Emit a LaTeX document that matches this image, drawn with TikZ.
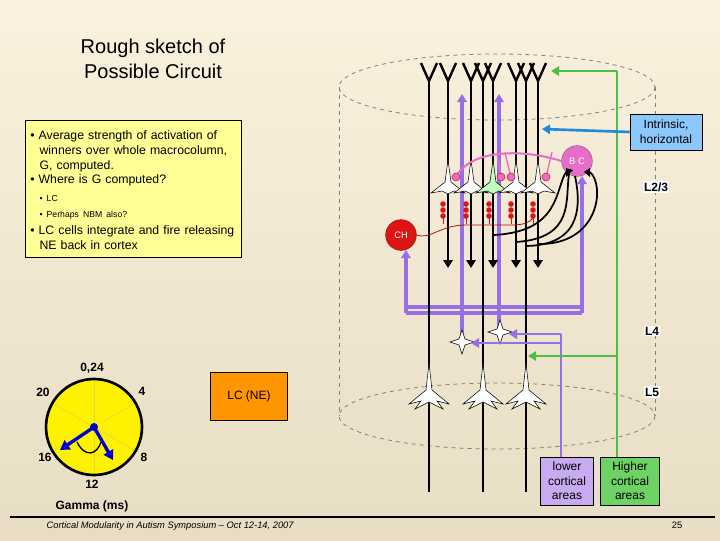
\documentclass[tikz,border=0pt]{standalone}
\usepackage{fontspec}
\setmainfont{Liberation Sans}
\usetikzlibrary{arrows.meta,shapes.geometric}
\definecolor{bgtop}{RGB}{250,241,222}
\definecolor{bgbot}{RGB}{232,221,196}
\definecolor{pur}{RGB}{150,110,230}
\definecolor{grn}{RGB}{80,190,70}
\definecolor{blu}{RGB}{30,140,220}
\definecolor{bluebox}{RGB}{140,200,250}
\definecolor{pnk}{RGB}{230,110,200}
\definecolor{ylw}{RGB}{255,255,150}
\definecolor{lcor}{RGB}{255,150,0}
\definecolor{lpur}{RGB}{200,170,240}
\definecolor{lgrn}{RGB}{110,210,100}
\definecolor{chred}{RGB}{220,20,20}
\tikzset{
 px/.style={x=0.75pt,y=-0.75pt},
 axon/.style={line width=2.2pt,black},
 purl/.style={line width=2.5pt,pur},
 grl/.style={line width=1.8pt,grn},
 cyl/.style={dashed,gray,line width=0.6pt},
 lay/.style={fill=white,font=\bfseries\small,inner sep=1pt},
 cortbox/.style={draw=black,align=center,font=\small,text width=48pt,minimum height=36pt,inner sep=1pt},
 clk/.style={font=\bfseries\small},
 neur/.style={fill=white,draw=black,line width=0.4pt},
}
\begin{document}
\begin{tikzpicture}[px]
\useasboundingbox (0,0) rectangle (720,540);
\shade[top color=bgtop,bottom color=bgbot] (0,0) rectangle (720,540);
% title
\node[align=center,font=\fontsize{15}{19}\selectfont] (title) at (153,59) {Rough sketch of\\Possible Circuit};
% text box
\node[draw=black,fill=ylw,anchor=north west,minimum width=162pt,minimum height=103pt,inner sep=0pt] (tb) at (25,120) {};
\node[anchor=north west,align=left,font=\fontsize{9.2}{11.2}\selectfont,text width=158pt,inner sep=0pt] (tbt) at (30,130) {%
• Average strength of activation of\\
\hspace*{7pt}winners over whole macrocolumn,\\
\hspace*{7pt}G, computed.\\
• Where is G computed?\\[2pt]
{\fontsize{6.5}{8}\selectfont\hspace*{7pt}• LC}\\[1pt]
{\fontsize{6.5}{8}\selectfont\hspace*{7pt}• Perhaps NBM also?}\\[1pt]
• LC cells integrate and fire releasing\\
\hspace*{7pt}NE back in cortex};
% cylinder
\draw[cyl] (497,87) ellipse [x radius=158,y radius=33];
\draw[cyl] (497,416) ellipse [x radius=158,y radius=33];
\draw[cyl] (339,87) -- (339,416);
\draw[cyl] (655,87) -- (655,416);
% layer labels
\node[lay] (l23) at (656,187) {L2/3};
\node[lay] (l4) at (652,331) {L4};
\node[lay] (l5) at (652,392) {L5};
% purple ascending lines
\draw[purl] (406,307) -- (582,307) (406,313) -- (582,313);
\draw[purl,-{Triangle[length=6pt,width=7pt]}] (406,313) -- (406,250);
\draw[purl,-{Triangle[length=6pt,width=7pt]}] (582,313) -- (582,176);
\draw[purl,-{Triangle[length=6pt,width=7pt]}] (462,342) -- (462,94);
\draw[purl,-{Triangle[length=6pt,width=7pt]}] (499,332) -- (499,94);
% black axons
\foreach \x in {429,483,526}{\draw[axon] (\x,80) -- (\x,492);}
\foreach \x in {448,471,493,516,538}{\draw[axon,-{Triangle[length=6pt,width=7pt]}] (\x,80) -- (\x,268);}
\foreach \x in {429,448,471,483,493,516,526,538}{\draw[line width=1.8pt] (\x-8,63) -- (\x,81) -- (\x+8,63);}
% L5 neurons
\foreach \x in {429,483,526}{\path[neur] (\x,363) -- (\x+3,390) -- (\x+20,404) -- (\x+8,401) -- (\x+14,409) -- (\x,402) -- (\x-14,409) -- (\x-8,401) -- (\x-20,404) -- (\x-3,390) -- cycle;}
% L2/3 neurons
\foreach \x/\c in {448/white,471/white,493/green!25,516/white,538/white}{\path[neur,fill=\c] (\x,160) -- (\x+3,182) -- (\x+17,193) -- (\x+6,191) -- (\x,194) -- (\x-6,191) -- (\x-17,193) -- (\x-3,182) -- cycle;}
% chandelier beads
\foreach \x in {443,466,489,511,533}{\foreach \y in {204,210,216}{\fill[chred] (\x,\y) circle (2.8);}\draw[chred,line width=0.5pt] (\x,218) -- (\x,224);}
\node[circle,fill=chred,draw=chred!70!black,minimum size=23pt,inner sep=0pt,text=white,font=\scriptsize] (ch) at (401,235) {CH};
\draw[chred!80!black,line width=0.6pt] (ch.east) .. controls (430,240) and (440,225) .. (466,225) -- (511,225) .. controls (525,225) and (530,222) .. (533,218);
% basket cell
\node[circle,fill=pnk,draw=pnk!70!black,minimum size=23pt,inner sep=0pt,text=white,font=\scriptsize] (bc) at (577,161) {B C};
\draw[pnk,line width=1.5pt] (bc.west) .. controls (520,148) and (470,150) .. (456,177);
\draw[pnk,line width=1pt] (497,154) -- (501,177) (505,153) -- (511,177) (552,152) -- (546,177);
\foreach \x in {456,501,511,546}{\node[circle,fill=pnk,draw=chred,minimum size=6pt,inner sep=0pt] (s\x) at (\x,177) {};}
\fill (566,168) -- (573,170) -- (566,177) -- cycle;
\fill (590,168) -- (584,172) -- (590,177) -- cycle;
\draw[line width=1.3pt] (566,172) .. controls (555,190) and (560,232) .. (493,235);
\draw[line width=1.3pt] (569,174) .. controls (565,200) and (575,238) .. (516,242);
\draw[line width=1.3pt] (590,172) .. controls (605,185) and (600,245) .. (538,244);
\draw[line width=1.3pt] (575,176) .. controls (580,200) and (585,245) .. (526,246);
% stars
\foreach \x/\y in {462/342,500/332}{\path[neur] (\x,\y-12) -- (\x+3,\y-3) -- (\x+12,\y) -- (\x+3,\y+3) -- (\x,\y+12) -- (\x-3,\y+3) -- (\x-12,\y) -- (\x-3,\y-3) -- cycle;}
% cortical boxes
\node[cortbox,fill=lpur,text width=38pt] (low) at (567,481) {lower\\cortical\\areas};
\node[cortbox,fill=lgrn,text width=42pt] (high) at (630,481) {Higher\\cortical\\areas};
\coordinate (lt) at (561,334);
\coordinate (gt) at (617,71);
\coordinate (gm) at (617,356);
\draw[line width=2pt,pur] (low.north -| lt) -- (lt);
\draw[line width=2pt,pur,-{Triangle[length=6pt,width=7pt]}] (561,334) -- (509,334);
\draw[line width=2pt,pur,-{Triangle[length=6pt,width=7pt]}] (561,343) -- (471,343);
\draw[grl] (high.north -| gt) -- (gt);
\draw[grl,-{Triangle[length=6pt,width=7pt]}] (gt) -- (551,71);
\draw[grl,-{Triangle[length=6pt,width=7pt]}] (gm) -- (528,356);
% intrinsic
\node[draw=black,fill=bluebox,align=center,font=\small,minimum width=54pt,minimum height=27pt,inner sep=1pt] (intr) at (666,132) {Intrinsic,\\horizontal};
\draw[line width=2pt,blu,-{Triangle[length=6pt,width=7pt]}] (intr.west) -- (542,129);
% LC box
\node[draw=black,fill=lcor,minimum width=58pt,minimum height=36pt,font=\small] (lc) at (249,396) {LC (NE)};
% clock
\node[circle,draw=black,line width=2pt,fill=yellow,minimum size=72pt] (clock) at (94,427) {};
\foreach \a in {90,30,-30}{\draw[yellow!70!gray,line width=0.4pt] (clock.center) ++(\a:-46) -- ++(\a:92);}
\draw[blue!80!black,line width=2.5pt,-{Triangle[length=7pt,width=8pt]}] (clock.center) -- (60,450);
\draw[blue!80!black,line width=2.5pt,-{Triangle[length=7pt,width=8pt]}] (clock.center) -- (113,460);
\draw[line width=1pt] (77,442) .. controls (85,458) and (97,455) .. (101,442);
\fill[blue!80!black] (clock.center) circle (4);
\node[clk] (c0) at (92,368) {0,24};
\node[clk] (c20) at (43,392) {20};
\node[clk] (c4) at (142,391) {4};
\node[clk] (c16) at (45,457) {16};
\node[clk] (c8) at (144,457) {8};
\node[clk] (c12) at (92,484) {12};
\node[clk] (gam) at (92,506) {Gamma (ms)};
% footer
\draw[line width=1.5pt] (10,517) -- (715,517);
\node[anchor=west,font=\scriptsize\itshape] (foot) at (42,526) {Cortical Modularity in Autism Symposium -- Oct 12-14, 2007};
\node[font=\scriptsize] (pg) at (677,525) {25};
\end{tikzpicture}
\end{document}
